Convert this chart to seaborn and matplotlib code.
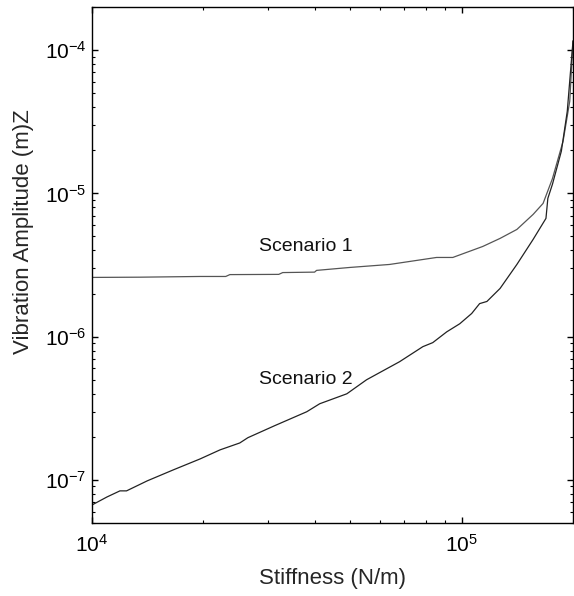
import numpy as np
import pandas as pd
import matplotlib
matplotlib.use("Agg")
import matplotlib.pyplot as plt
import matplotlib.ticker as mticker
import seaborn as sns

sns.set_style("ticks")
plt.rcParams['font.family'] = ['Liberation Sans', 'DejaVu Sans']
plt.rcParams['mathtext.fontset'] = 'custom'
plt.rcParams['mathtext.rm'] = 'Liberation Sans'
plt.rcParams['mathtext.it'] = 'Liberation Sans:italic'

# values
stiffness_1 = [1.0e4, 1.35e4, 1.96e4, 2.30e4, 2.36e4, 3.20e4, 3.28e4, 4.0e4, 4.05e4,
               4.98e4, 6.38e4, 8.55e4, 9.46e4, 1.14e5, 1.27e5, 1.41e5, 1.56e5,
               1.66e5, 1.76e5, 1.88e5, 1.96e5, 2.0e5]
amplitude_1 = [2.59e-6, 2.60e-6, 2.63e-6, 2.63e-6, 2.71e-6, 2.72e-6, 2.80e-6, 2.82e-6, 2.90e-6,
               3.04e-6, 3.19e-6, 3.57e-6, 3.57e-6, 4.26e-6, 4.85e-6, 5.6e-6, 7.13e-6,
               8.51e-6, 1.27e-5, 2.31e-5, 4.40e-5, 1.16e-4]

stiffness_2 = [1.0e4, 1.098e4, 1.19e4, 1.24e4, 1.41e4, 1.66e4, 1.96e4, 2.22e4, 2.51e4,
               2.64e4, 3.12e4, 3.81e4, 4.13e4, 4.89e4, 5.53e4, 6.27e4, 6.79e4, 7.85e4,
               8.35e4, 9.11e4, 9.88e4, 1.064e5, 1.118e5, 1.17e5, 1.27e5, 1.41e5, 1.56e5,
               1.69e5, 1.71e5, 1.76e5, 1.86e5, 1.93e5, 2.0e5]
amplitude_2 = [6.68e-8, 7.60e-8, 8.38e-8, 8.38e-8, 9.84e-8, 1.175e-7, 1.40e-7, 1.62e-7, 1.81e-7,
               1.97e-7, 2.39e-7, 2.99e-7, 3.40e-7, 3.99e-7, 5.0e-7, 5.97e-7, 6.68e-7, 8.51e-7,
               9.08e-7, 1.08e-6, 1.23e-6, 1.45e-6, 1.70e-6, 1.76e-6, 2.17e-6, 3.19e-6, 4.77e-6,
               6.69e-6, 9.23e-6, 1.16e-5, 1.97e-5, 3.75e-5, 1.16e-4]

labels = ["Scenario 1", "Scenario 2"]
label_x = [3.79e4, 3.79e4]
label_y = [4.26e-6, 5.0e-7]

fig = plt.figure(figsize=(5.74, 5.96), dpi=100)
ax = fig.add_axes([92 / 574, 73 / 596, 481 / 574, 516 / 596])

sns.lineplot(x=stiffness_1, y=amplitude_1, ax=ax, color='#555555', lw=0.9, estimator=None)
sns.lineplot(x=stiffness_2, y=amplitude_2, ax=ax, color='#222222', lw=0.9, estimator=None)

ax.set_xscale('log')
ax.set_yscale('log')
ax.set_xlim(1e4, 2e5)
ax.set_ylim(5e-8, 2e-4)

for txt, lx, ly in zip(labels, label_x, label_y):
    ax.text(lx, ly, txt, fontsize=14, ha='center', va='center', color='#111111')

ax.xaxis.set_major_locator(mticker.LogLocator(base=10))
ax.xaxis.set_minor_locator(mticker.LogLocator(base=10, subs=np.arange(2, 10)))
ax.yaxis.set_minor_locator(mticker.LogLocator(base=10, subs=np.arange(2, 10)))
ax.xaxis.set_minor_formatter(mticker.NullFormatter())
ax.yaxis.set_minor_formatter(mticker.NullFormatter())

ax.tick_params(which='both', direction='in', top=True, right=True, colors='black', labelsize=15)
ax.tick_params(which='major', length=4, width=1)
ax.tick_params(which='minor', length=2.5, width=0.8)
ax.tick_params(axis='x', which='major', pad=8)
ax.tick_params(axis='y', which='major', pad=4)

for sp in ax.spines.values():
    sp.set_color('black')
    sp.set_linewidth(1)

ax.set_xlabel('Stiffness (N/m)', fontsize=16)
ax.set_ylabel('Vibration Amplitude (m)Z', fontsize=16)
ax.xaxis.set_label_coords(0.5, -0.087)
ax.yaxis.set_label_coords(-0.12, 0.565)

fig.savefig('out.png', dpi=100)
